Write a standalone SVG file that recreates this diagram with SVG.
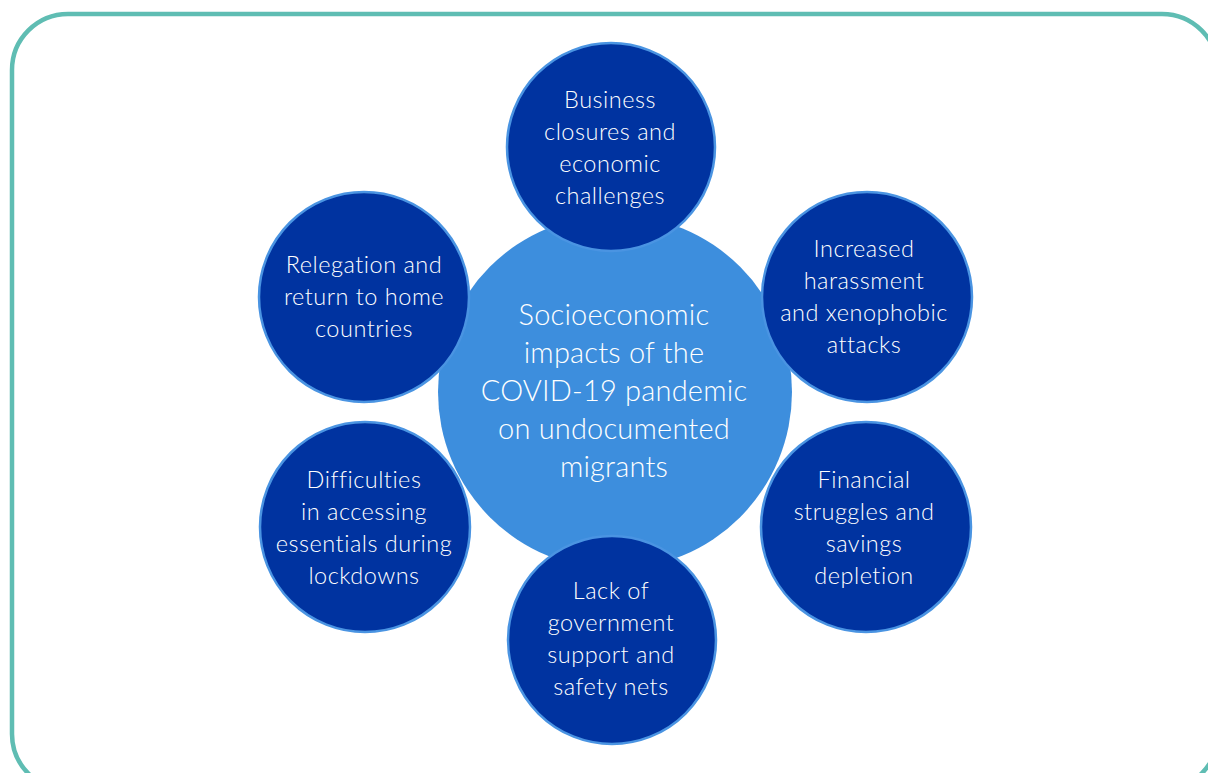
<svg xmlns="http://www.w3.org/2000/svg" width="1208" height="773" viewBox="0 0 1208 773">
<style>
.frame{fill:#ffffff;stroke:#5fbdb3;stroke-width:4.5}
.hub{fill:#3d8edd}
.sat{fill:#0033a0;stroke:#4a94e2;stroke-width:2.5}
text{font-family:Lato,"Open Sans","Liberation Sans",sans-serif;font-weight:300;fill:#ffffff;text-anchor:middle}
.st{font-size:23.5px;letter-spacing:0.5px}
.ht{font-size:29px;letter-spacing:0.2px}
</style>
<rect class="frame" x="12" y="14" width="1206" height="776" rx="56" ry="56"/>
<g id="connectors"></g>
<g id="hub">
<circle class="hub" cx="615" cy="392" r="177"/>
<text class="ht"><tspan x="614" y="325">Socioeconomic</tspan><tspan x="614" y="363">impacts of the</tspan><tspan x="614" y="401">COVID-19 pandemic</tspan><tspan x="614" y="439">on undocumented</tspan><tspan x="614" y="477">migrants</tspan></text>
</g>
<g id="n-business">
<circle class="sat" cx="611" cy="147" r="104"/>
<text class="st"><tspan x="610" y="108">Business</tspan><tspan x="610" y="140">closures and</tspan><tspan x="610" y="172">economic</tspan><tspan x="610" y="204">challenges</tspan></text>
</g>
<g id="n-relegation">
<circle class="sat" cx="364" cy="297" r="105"/>
<text class="st"><tspan x="364" y="273">Relegation and</tspan><tspan x="364" y="305">return to home</tspan><tspan x="364" y="337">countries</tspan></text>
</g>
<g id="n-harassment">
<circle class="sat" cx="867" cy="297" r="105"/>
<text class="st"><tspan x="864" y="257">Increased</tspan><tspan x="864" y="289">harassment</tspan><tspan x="864" y="321">and xenophobic</tspan><tspan x="864" y="353">attacks</tspan></text>
</g>
<g id="n-difficulties">
<circle class="sat" cx="365" cy="527" r="105"/>
<text class="st"><tspan x="364" y="488">Difficulties</tspan><tspan x="364" y="520">in accessing</tspan><tspan x="364" y="552">essentials during</tspan><tspan x="364" y="584">lockdowns</tspan></text>
</g>
<g id="n-financial">
<circle class="sat" cx="866" cy="527" r="105"/>
<text class="st"><tspan x="864" y="488">Financial</tspan><tspan x="864" y="520">struggles and</tspan><tspan x="864" y="552">savings</tspan><tspan x="864" y="584">depletion</tspan></text>
</g>
<g id="n-government">
<circle class="sat" cx="612" cy="640" r="104"/>
<text class="st"><tspan x="611" y="599">Lack of</tspan><tspan x="611" y="631">government</tspan><tspan x="611" y="663">support and</tspan><tspan x="611" y="695">safety nets</tspan></text>
</g>
</svg>
